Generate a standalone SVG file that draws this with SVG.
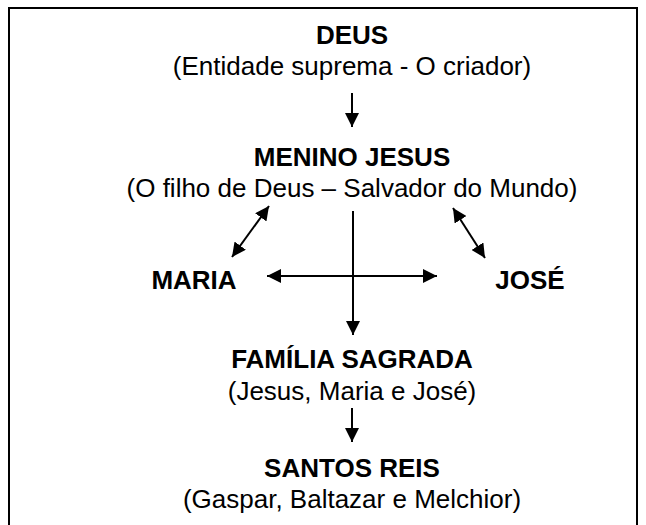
<svg xmlns="http://www.w3.org/2000/svg" width="646" height="525" viewBox="0 0 646 525">
<defs>
<marker id="ah" viewBox="0 0 10 10" refX="10" refY="5" markerWidth="7" markerHeight="7" markerUnits="strokeWidth" orient="auto-start-reverse">
<path d="M0,0 L10,5 L0,10 z" fill="#000"/>
</marker>
<style>
.t{font-family:"Liberation Sans",Arial,sans-serif;font-weight:bold;font-size:26px;fill:#000;text-anchor:middle}
.s{font-family:"Liberation Sans",Arial,sans-serif;font-size:26px;fill:#000;text-anchor:middle}
.c{stroke:#000;stroke-width:2;fill:none}
</style>
</defs>
<rect width="646" height="525" fill="#fff"/>
<rect x="9" y="8" width="628" height="530" fill="none" stroke="#000" stroke-width="2"/>
<g id="deus"><text class="t" x="352" y="44">DEUS</text><text class="s" x="352" y="75">(Entidade suprema - O criador)</text></g>
<g id="jesus"><text class="t" x="352" y="166">MENINO JESUS</text><text class="s" x="352" y="197">(O filho de Deus – Salvador do Mundo)</text></g>
<g id="maria"><text class="t" x="194" y="289">MARIA</text></g>
<g id="jose"><text class="t" x="530" y="289">JOSÉ</text></g>
<g id="familia"><text class="t" x="352" y="368">FAMÍLIA SAGRADA</text><text class="s" x="352" y="400">(Jesus, Maria e José)</text></g>
<g id="reis"><text class="t" x="352" y="477">SANTOS REIS</text><text class="s" x="352" y="508">(Gaspar, Baltazar e Melchior)</text></g>
<g id="connectors">
<line class="c" x1="352" y1="93" x2="352" y2="127" marker-end="url(#ah)"/>
<line class="c" x1="269" y1="206" x2="232" y2="257" marker-start="url(#ah)" marker-end="url(#ah)"/>
<line class="c" x1="453" y1="208" x2="485" y2="258" marker-start="url(#ah)" marker-end="url(#ah)"/>
<line class="c" x1="267" y1="276" x2="437" y2="276" marker-start="url(#ah)" marker-end="url(#ah)"/>
<line class="c" x1="353" y1="211" x2="353" y2="335" marker-end="url(#ah)"/>
<line class="c" x1="352" y1="408" x2="352" y2="442" marker-end="url(#ah)"/>
</g>
</svg>
